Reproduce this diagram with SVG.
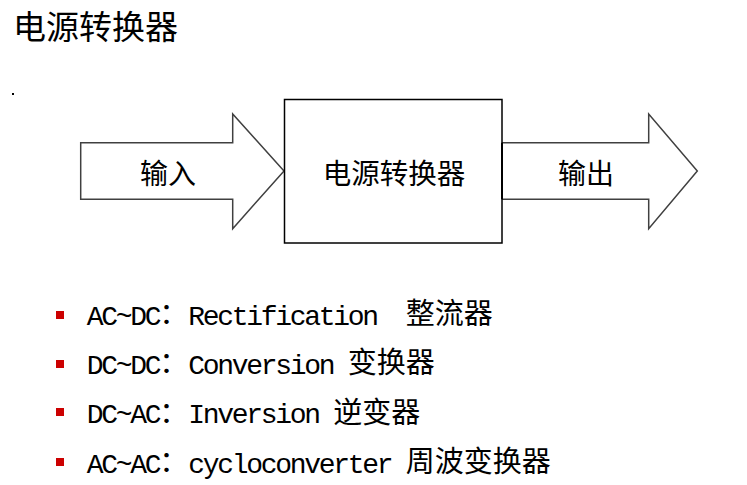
<svg xmlns="http://www.w3.org/2000/svg" width="747" height="485" viewBox="0 0 747 485">
<style>
.cjk{font-family:"Noto Sans CJK SC","Noto Sans",sans-serif;fill:#000}
.mono{font-family:"Liberation Mono","DejaVu Sans Mono",monospace;font-size:28px;letter-spacing:-2.3px;fill:#000}
.bul{fill:#CC0000}
.arrow{fill:#fff;stroke:#404040;stroke-width:1.5}
.box{fill:#fff;stroke:#000;stroke-width:1.5}
</style>
<rect width="747" height="485" fill="#fff"/>
<g id="title">
<text class="cjk" x="13" y="39" font-size="33">电源转换器</text>
<rect x="12" y="93" width="2" height="2" fill="#000"/>
</g>
<g id="connectors">
<g id="input-arrow">
<path class="arrow" d="M80.7,142.7 H232.7 V114 L284,171 L232.7,228.7 V199.3 H80.7 Z"/>
<text class="cjk" x="168" y="184" font-size="28" text-anchor="middle">输入</text>
</g>
<g id="output-arrow">
<path class="arrow" d="M502,142.7 H648.7 V114 L697.3,171 L648.7,228.7 V199.3 H502 Z"/>
<text class="cjk" x="586" y="184" font-size="28" text-anchor="middle">输出</text>
</g>
</g>
<g id="converter">
<rect class="box" x="284.5" y="99.5" width="217.5" height="143.5"/>
<line x1="502" y1="142.7" x2="502" y2="199.3" stroke="#000" stroke-width="2"/>
<text class="cjk" x="394" y="184" font-size="28.5" text-anchor="middle">电源转换器</text>
</g>
<g id="list">
<g id="item1">
<rect class="bul" x="56" y="311" width="8" height="8"/>
<text class="mono" x="86.7" y="324.5">AC~DC</text>
<text class="cjk" x="159.2" y="324" font-size="29">：</text>
<text class="mono" x="188.2" y="324.5">Rectification</text>
<text class="cjk" x="405.7" y="324" font-size="29">整流器</text>
</g>
<g id="item2">
<rect class="bul" x="56" y="360" width="8" height="8"/>
<text class="mono" x="86.7" y="373.5">DC~DC</text>
<text class="cjk" x="159.2" y="373" font-size="29">：</text>
<text class="mono" x="188.2" y="373.5">Conversion</text>
<text class="cjk" x="347.7" y="373" font-size="29">变换器</text>
</g>
<g id="item3">
<rect class="bul" x="56" y="408" width="8" height="8"/>
<text class="mono" x="86.7" y="423">DC~AC</text>
<text class="cjk" x="159.2" y="422.5" font-size="29">：</text>
<text class="mono" x="188.2" y="423">Inversion</text>
<text class="cjk" x="333.2" y="422.5" font-size="29">逆变器</text>
</g>
<g id="item4">
<rect class="bul" x="56" y="458" width="8" height="8"/>
<text class="mono" x="86.7" y="472.5">AC~AC</text>
<text class="cjk" x="159.2" y="472" font-size="29">：</text>
<text class="mono" x="188.2" y="472.5">cycloconverter</text>
<text class="cjk" x="405.7" y="472" font-size="29">周波变换器</text>
</g>
</g>
</svg>
